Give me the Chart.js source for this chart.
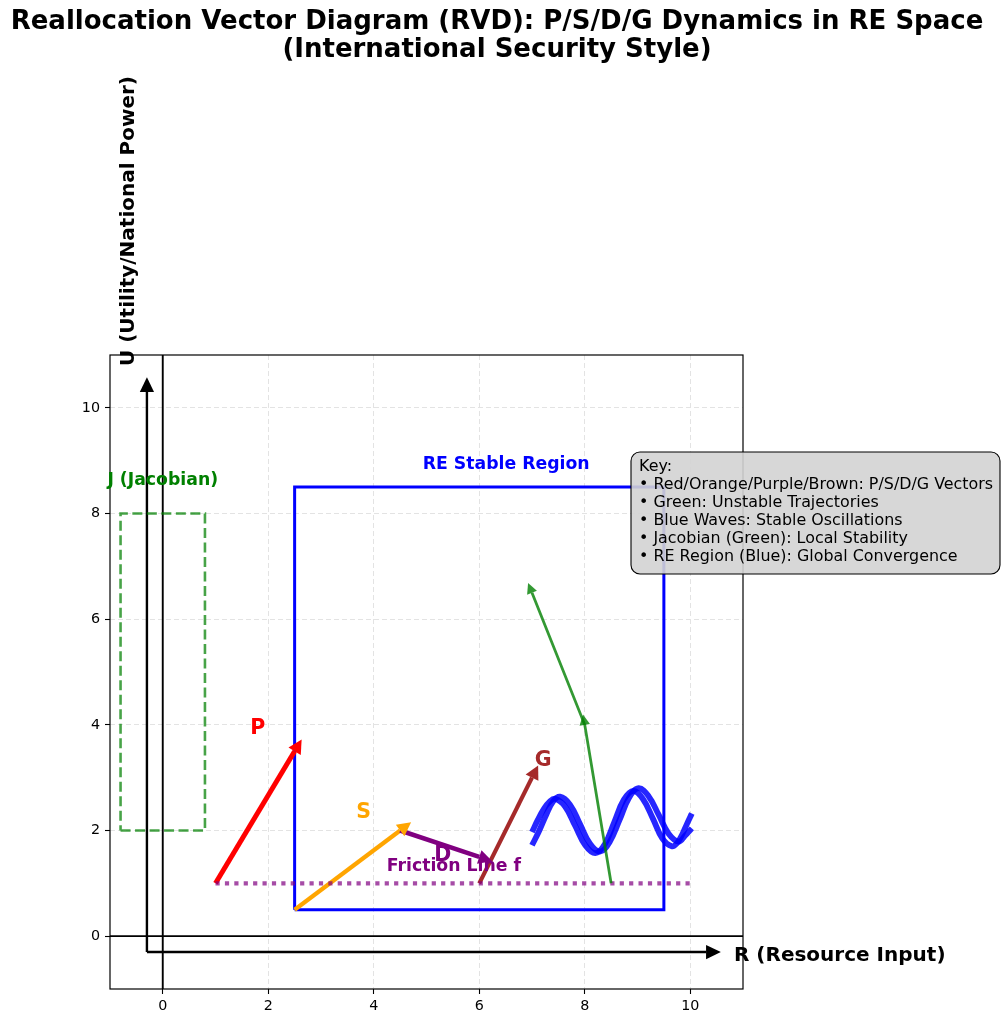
<!DOCTYPE html>
<html>
<head>
<meta charset="utf-8">
<script src="https://cdn.jsdelivr.net/npm/chart.js@4.4.1/dist/chart.umd.min.js"></script>
<style>
  html, body { margin: 0; padding: 0; background: #fff; }
  #wrap { width: 1003px; height: 1024px; }
</style>
</head>
<body>
<div id="wrap"><canvas id="rvd" width="1003" height="1024"></canvas></div>
<script>
// axis ticks
const xTicks = [0, 2, 4, 6, 8, 10];
const yTicks = [0, 2, 4, 6, 8, 10];

// P/S/D/G vectors (shaft start -> head base)
const vecNames = ["P", "S", "D", "G"];
const vecStartX = [1, 2.5, 4.5, 6];
const vecStartY = [1, 0.5, 2, 1];
const vecEndX = [2.5, 4.5, 6, 7];
const vecEndY = [3.5, 2, 1.5, 3];
const vecColors = ["#ff0000", "#ffa500", "#800080", "#a52a2a"];
const vecWidths = [5, 4.2, 4.5, 4.2];
const vecLabelX = [1.8, 3.81, 5.31, 7.21];
const vecLabelY = [3.92, 2.33, 1.53, 3.33];

// unstable green trajectory
const trajX = [8.5, 8, 7];
const trajY = [1, 4, 6.5];

// stable oscillations (two blue waves)
const waveX1 = [7.0, 7.11, 7.22, 7.33, 7.44, 7.63, 7.82, 8.01, 8.2, 8.38, 8.56, 8.74, 8.92, 9.1, 9.29, 9.47, 9.65, 9.75, 9.85, 9.94, 10.03];
const waveY1 = [1.97, 2.2, 2.4, 2.54, 2.6, 2.45, 2.085, 1.72, 1.57, 1.74, 2.16, 2.58, 2.75, 2.6, 2.23, 1.85, 1.7, 1.76, 1.93, 2.13, 2.32];
const waveX2 = [7.0, 7.13, 7.27, 7.4, 7.53, 7.72, 7.91, 8.1, 8.29, 8.47, 8.66, 8.84, 9.02, 9.21, 9.4, 9.59, 9.78, 9.9, 10.03];
const waveY2 = [1.72, 1.98, 2.3, 2.55, 2.64, 2.49, 2.12, 1.75, 1.6, 1.78, 2.2, 2.62, 2.8, 2.65, 2.3, 1.94, 1.79, 1.9, 2.04];

// boxes and friction line
const jacobX = [-0.8, 0.8, 0.8, -0.8, -0.8];
const jacobY = [2, 2, 8, 8, 2];
const regionX = [2.5, 9.5, 9.5, 2.5, 2.5];
const regionY = [0.5, 0.5, 8.5, 8.5, 0.5];
const frictionX = [1, 10];
const frictionY = [1, 1];

// big axis arrows
const axisArrowX = [-0.3, 10.3];
const axisArrowY = [-0.3, 10.3];

// annotations
const noteTexts = ["RE Stable Region", "J (Jacobian)", "Friction Line f"];
const noteX = [6.51, 0.0, 5.52];
const noteY = [8.92, 8.62, 1.31];
const noteColors = ["#0000ff", "#008000", "#800080"];

const keyLines = [
  "Key:",
  "\u2022 Red/Orange/Purple/Brown: P/S/D/G Vectors",
  "\u2022 Green: Unstable Trajectories",
  "\u2022 Blue Waves: Stable Oscillations",
  "\u2022 Jacobian (Green): Local Stability",
  "\u2022 RE Region (Blue): Global Convergence",
];

const titleLines = [
  "Reallocation Vector Diagram (RVD): P/S/D/G Dynamics in RE Space",
  "(International Security Style)",
];

const FONT = '"DejaVu Sans", sans-serif';
const datasets = [];

function addLine(xs, ys, style) {
  datasets.push(Object.assign({
    data: xs.map((x, i) => ({ x: x, y: ys[i] })),
    showLine: true,
    pointRadius: 0,
    pointHoverRadius: 0,
    fill: false,
    tension: 0,
  }, style));
}

// zero lines
addLine([-1, 11], [0, 0], { borderColor: "#000", borderWidth: 1.9 });
addLine([0, 0], [-1, 11], { borderColor: "#000", borderWidth: 1.9 });
// axis arrow shafts
addLine([axisArrowX[0], axisArrowX[1]], [axisArrowY[0], axisArrowY[0]], { borderColor: "#000", borderWidth: 2.4 });
addLine([axisArrowX[0], axisArrowX[0]], [axisArrowY[0], axisArrowY[1]], { borderColor: "#000", borderWidth: 2.4 });

addLine(jacobX, jacobY, { borderColor: "rgba(0,128,0,0.72)", borderWidth: 2.6, borderDash: [10, 4.5] });
addLine(regionX, regionY, { borderColor: "#0000ff", borderWidth: 3 });

vecNames.forEach((name, i) => {
  addLine([vecStartX[i], vecEndX[i]], [vecStartY[i], vecEndY[i]], {
    borderColor: vecColors[i], borderWidth: vecWidths[i], borderCapStyle: "butt",
  });
});

addLine(frictionX, frictionY, { borderColor: "rgba(128,0,128,0.7)", borderWidth: 4.2, borderDash: [4.2, 5.2] });

addLine(waveX1, waveY1, { borderColor: "rgba(0,0,255,0.85)", borderWidth: 5.8, tension: 0.4, borderCapStyle: "butt" });
addLine(waveX2, waveY2, { borderColor: "rgba(0,0,255,0.85)", borderWidth: 5.8, tension: 0.4, borderCapStyle: "butt" });

addLine(trajX, trajY, { borderColor: "rgba(0,128,0,0.8)", borderWidth: 2.8 });

datasets.forEach((ds, i) => { ds.order = -i; });

function drawHead(ctx, chart, x0, y0, x1, y1, headLen, headWidth, color) {
  const xs = chart.scales.x, ys = chart.scales.y;
  const len = Math.hypot(x1 - x0, y1 - y0);
  const ux = (x1 - x0) / len, uy = (y1 - y0) / len;
  const bx = xs.getPixelForValue(x1), by = ys.getPixelForValue(y1);
  const tx = xs.getPixelForValue(x1 + ux * headLen), ty = ys.getPixelForValue(y1 + uy * headLen);
  const pl = Math.hypot(tx - bx, ty - by);
  const nx = -(ty - by) / pl, ny = (tx - bx) / pl;
  const hw = (headWidth / 2) * (xs.getPixelForValue(1) - xs.getPixelForValue(0));
  ctx.beginPath();
  ctx.moveTo(tx, ty);
  ctx.lineTo(bx + nx * hw, by + ny * hw);
  ctx.lineTo(bx - nx * hw, by - ny * hw);
  ctx.closePath();
  ctx.fillStyle = color;
  ctx.fill();
}

const overlay = {
  id: "overlay",
  afterDatasetsDraw(chart) {
    const ctx = chart.ctx;
    const xs = chart.scales.x, ys = chart.scales.y;
    const area = chart.chartArea;
    ctx.save();

    // arrow heads
    drawHead(ctx, chart, axisArrowX[0], axisArrowY[0], axisArrowX[1], axisArrowY[0], 0.28, 0.27, "#000");
    drawHead(ctx, chart, axisArrowX[0], axisArrowY[0], axisArrowX[0], axisArrowY[1], 0.28, 0.27, "#000");
    vecNames.forEach((name, i) => {
      drawHead(ctx, chart, vecStartX[i], vecStartY[i], vecEndX[i], vecEndY[i], 0.26, 0.27, vecColors[i]);
    });
    for (let i = 0; i < trajX.length - 1; i++) {
      drawHead(ctx, chart, trajX[i], trajY[i], trajX[i + 1], trajY[i + 1], 0.2, 0.2, "rgba(0,128,0,0.8)");
    }

    // frame
    ctx.strokeStyle = "#000";
    ctx.lineWidth = 1.2;
    ctx.strokeRect(area.left, area.top, area.right - area.left, area.bottom - area.top);

    // vector labels
    ctx.textAlign = "center";
    ctx.textBaseline = "middle";
    ctx.font = "bold 20.5px " + FONT;
    vecNames.forEach((name, i) => {
      ctx.fillStyle = vecColors[i];
      ctx.fillText(name, xs.getPixelForValue(vecLabelX[i]), ys.getPixelForValue(vecLabelY[i]));
    });
    ctx.font = "bold 17.3px " + FONT;
    noteTexts.forEach((t, i) => {
      ctx.fillStyle = noteColors[i];
      ctx.fillText(t, xs.getPixelForValue(noteX[i]), ys.getPixelForValue(noteY[i]));
    });

    // axis labels
    ctx.fillStyle = "#000";
    ctx.font = "bold 20px " + FONT;
    ctx.textAlign = "left";
    ctx.fillText("R (Resource Input)", 734, 956);
    ctx.save();
    ctx.translate(129, 366);
    ctx.rotate(-Math.PI / 2);
    ctx.fillText("U (Utility/National Power)", 0, 0);
    ctx.restore();

    // key box
    const bx = 631, by = 452, bw = 369, bh = 122, r = 9;
    ctx.beginPath();
    ctx.moveTo(bx + r, by);
    ctx.arcTo(bx + bw, by, bx + bw, by + bh, r);
    ctx.arcTo(bx + bw, by + bh, bx, by + bh, r);
    ctx.arcTo(bx, by + bh, bx, by, r);
    ctx.arcTo(bx, by, bx + bw, by, r);
    ctx.closePath();
    ctx.fillStyle = "rgba(211,211,211,0.9)";
    ctx.fill();
    ctx.strokeStyle = "#000";
    ctx.lineWidth = 1.1;
    ctx.stroke();
    ctx.fillStyle = "#000";
    ctx.font = "15.9px " + FONT;
    ctx.textAlign = "left";
    keyLines.forEach((t, i) => {
      ctx.fillText(t, 639, 467 + i * 18);
    });

    // title
    ctx.textAlign = "center";
    ctx.font = "bold 26px " + FONT;
    ctx.fillText(titleLines[0], 497, 22);
    ctx.fillText(titleLines[1], 497, 50);

    ctx.restore();
  },
};

new Chart(document.getElementById("rvd"), {
  type: "scatter",
  data: { datasets: datasets },
  options: {
    responsive: false,
    animation: false,
    devicePixelRatio: 1,
    layout: { padding: { top: 355, right: 260, left: 0, bottom: 0 } },
    plugins: { legend: { display: false }, tooltip: { enabled: false }, title: { display: false } },
    scales: {
      x: {
        type: "linear",
        min: -1,
        max: 11,
        afterBuildTicks: (scale) => { scale.ticks = xTicks.map((v) => ({ value: v })); },
        afterFit: (scale) => { scale.height = 35; },
        ticks: { color: "#000", font: { family: FONT, size: 14.3 }, padding: 4 },
        grid: { color: "#e3e3e3", lineWidth: 1, drawTicks: true, tickLength: 5, tickColor: "#000", tickWidth: 1.1 },
        border: { display: false, dash: [5, 3] },
      },
      y: {
        type: "linear",
        min: -1,
        max: 11,
        afterBuildTicks: (scale) => { scale.ticks = yTicks.map((v) => ({ value: v })); },
        afterFit: (scale) => { scale.width = 110; },
        ticks: { color: "#000", font: { family: FONT, size: 14.3 }, padding: 5 },
        grid: { color: "#e3e3e3", lineWidth: 1, drawTicks: true, tickLength: 5, tickColor: "#000", tickWidth: 1.1 },
        border: { display: false, dash: [5, 3] },
      },
    },
  },
  plugins: [overlay],
});
</script>
</body>
</html>
